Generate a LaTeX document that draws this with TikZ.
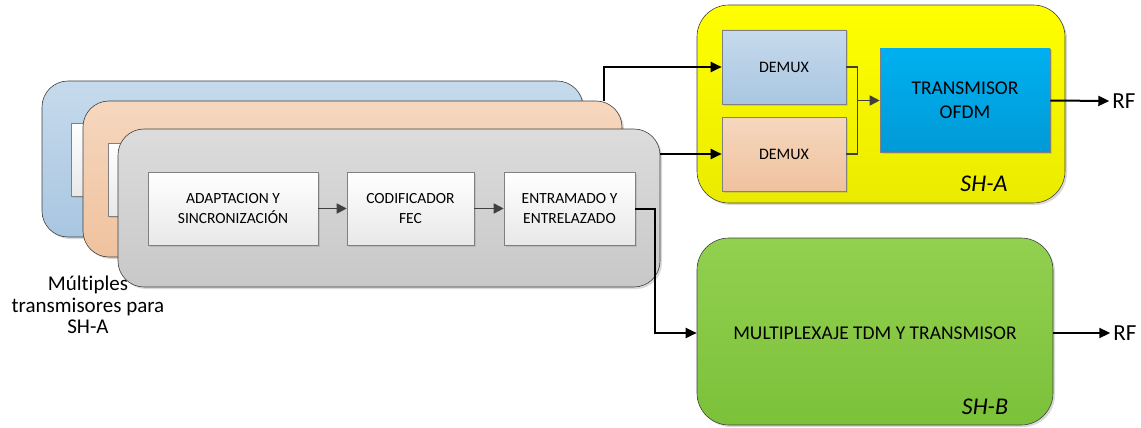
\documentclass[tikz,border=0pt]{standalone}
\usepackage{fontspec}
\setmainfont{Carlito}[Ligatures={NoCommon}]
\usetikzlibrary{arrows.meta,shadows,positioning}
\definecolor{edgegray}{HTML}{404040}
\definecolor{bluetop}{HTML}{C6DAEC}
\definecolor{bluebot}{HTML}{A9C6E1}
\definecolor{orgtop}{HTML}{F6D7BE}
\definecolor{orgbot}{HTML}{EFC29E}
\definecolor{graytop}{HTML}{DCDCDC}
\definecolor{graybot}{HTML}{C8C8C8}
\definecolor{cyantop}{HTML}{00B0F0}
\definecolor{cyanbot}{HTML}{009AD6}
\definecolor{greentop}{HTML}{92D050}
\definecolor{greenbot}{HTML}{7CC13A}
\newcommand{\txpanel}[6]{
  \node[panel, top color=#5, bottom color=#6,
        minimum width=#3, minimum height=#4] (#1) at #2 {};
}
\tikzset{
  panel/.style   = {draw=edgegray, line width=0.6pt, rounded corners=26pt,
                    drop shadow={shadow xshift=2pt, shadow yshift=-2pt, opacity=0.3}},
  block/.style   = {draw=black!50, line width=0.6pt, top color=white, bottom color=black!9,
                    align=center, minimum width=130pt, minimum height=73pt,
                    font=\fontsize{15.5}{19.5}\selectfont,
                    drop shadow={shadow xshift=1.5pt, shadow yshift=-1.5pt, opacity=0.25}},
  conn/.style    = {line width=2pt, -{Triangle[length=11pt, width=10pt]}},
  link/.style    = {draw=edgegray, line width=1.6pt, -{Triangle[length=10pt, width=10pt]}},
  tag/.style     = {font=\fontsize{24}{28}\selectfont\itshape},
  rf/.style      = {font=\fontsize{23}{26}\selectfont, inner sep=3pt}
}

\begin{document}
\begin{tikzpicture}[x=1pt, y=-1pt]
  \useasboundingbox (0,0) rectangle (1141,428);
  % transmisores para SH-A
  \txpanel{txa}{(312.5,159)}{541pt}{156pt}{bluetop}{bluebot}
  \node[block, minimum width=170pt] (boxa) at (156,159.5) {};
  \txpanel{txb}{(352.5,179)}{539pt}{156pt}{orgtop}{orgbot}
  \node[block, minimum width=170pt] (boxb) at (193,179.5) {};
  \txpanel{txc}{(389,208)}{542pt}{158pt}{graytop}{graybot}
  \node[block, minimum width=170pt] (adapt) at (233,208.5) {ADAPTACION Y\\SINCRONIZACIÓN};
  \node[block, minimum width=127pt] (fec) at (410.5,208.5) {CODIFICADOR\\FEC};
  \node[block, minimum width=131pt] (entr) at (569.5,208.5) {ENTRAMADO Y\\ENTRELAZADO};
  \draw[link] (adapt) -- (fec);
  \draw[link] (fec) -- (entr);
  \node[align=center, font=\fontsize{21}{21.5}\selectfont] (multi) at (88,305)
    {Múltiples\\transmisores para\\SH-A};

  % SH-A
  \node[panel, rounded corners=32pt, top color=yellow, bottom color=yellow!92!black,
        minimum width=368pt, minimum height=198pt] (sha) at (881,104) {};
  \node[block, top color=bluetop, bottom color=bluebot, minimum width=124pt,
        minimum height=74pt, font=\fontsize{16}{19}\selectfont] (demuxa) at (784,67) {DEMUX};
  \node[block, top color=orgtop, bottom color=orgbot, minimum width=124pt,
        minimum height=74pt, font=\fontsize{16}{19}\selectfont] (demuxb) at (784,154) {DEMUX};
  \node[block, top color=cyantop, bottom color=cyanbot, minimum width=170pt,
        minimum height=103pt, font=\fontsize{19.5}{24}\selectfont] (ofdm) at (965,100.5)
    {TRANSMISOR\\OFDM};
  \node[tag] (shatag) at (984,184) {SH-A};
  \path (demuxa.east) ++(11,0) coordinate (mrg);
  \draw[draw=edgegray, line width=1.6pt] (demuxa.east) -| (mrg) |- (demuxb.east);
  \draw[link] (ofdm.west -| mrg) -- (ofdm.west);
  \node[rf] (rfa) at (1124,101) {RF};
  \draw[conn] (ofdm.east) -- (rfa.west);

  % SH-B
  \node[panel, rounded corners=32pt, top color=greentop, bottom color=greenbot,
        minimum width=356pt, minimum height=187pt] (shb) at (875,331.5) {};
  \node[font=\fontsize{19.5}{24}\selectfont] (mux) at (875,333)
    {MULTIPLEXAJE TDM Y TRANSMISOR};
  \node[tag] (shbtag) at (985,407) {SH-B};
  \node[rf] (rfb) at (1125,333) {RF};
  \draw[conn] (shb.east |- mux) -- (rfb.west);

  % enlaces
  \draw[conn] (txb.north east) ++(-18,0) |- (demuxa.west);
  \draw[conn] (txc.east |- demuxb.west) -- (demuxb.west);
  \draw[conn] (entr.east) -- ++(20,0) |- (shb.west |- mux);
\end{tikzpicture}
\end{document}
